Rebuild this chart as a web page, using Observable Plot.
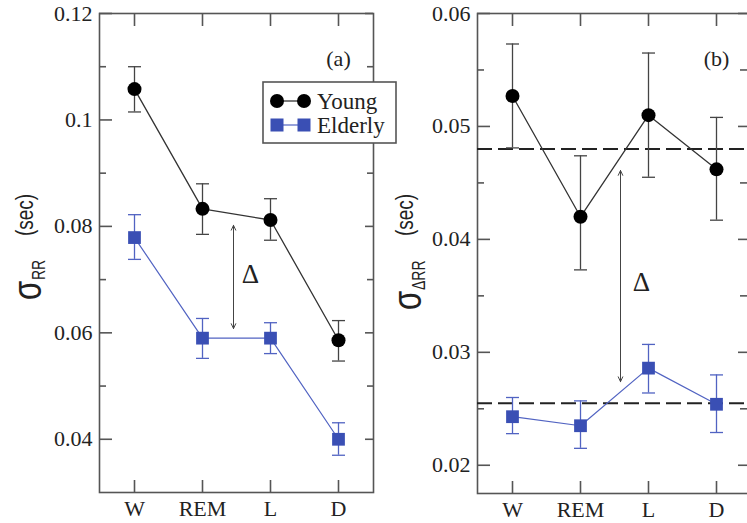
<!DOCTYPE html>
<html><head><meta charset="utf-8">
<script src="https://cdn.jsdelivr.net/npm/d3@7"></script>
<script src="https://cdn.jsdelivr.net/npm/@observablehq/plot@0.6"></script>
<style>
body{margin:0;background:#fff;}
#wrap{position:relative;width:747px;height:523px;overflow:hidden;background:#fff;}
.panel{position:absolute;top:0;}
</style></head><body>
<div id="wrap"><div id="pa" class="panel" style="left:0;width:400px"></div><div id="pb" class="panel" style="left:380px;width:370px"></div></div>
<script>
// ---- data ----
const stages = ["W", "REM", "L", "D"];
// panel (a): sigma_RR (sec)
const youngRR   = [0.1058, 0.0833, 0.0812, 0.0586];
const youngRRLo = [0.1015, 0.0785, 0.0774, 0.0547];
const youngRRHi = [0.1100, 0.0880, 0.0852, 0.0623];
const elderRR   = [0.0779, 0.0590, 0.0590, 0.0400];
const elderRRLo = [0.0738, 0.0552, 0.0561, 0.0370];
const elderRRHi = [0.0822, 0.0627, 0.0619, 0.0431];
// panel (b): sigma_dRR (sec)
const youngDRR   = [0.0527, 0.0420, 0.0510, 0.0462];
const youngDRRLo = [0.0481, 0.0373, 0.0455, 0.0417];
const youngDRRHi = [0.0573, 0.0474, 0.0565, 0.0508];
const elderDRR   = [0.0243, 0.0235, 0.0286, 0.0254];
const elderDRRLo = [0.0228, 0.0215, 0.0264, 0.0229];
const elderDRRHi = [0.0260, 0.0257, 0.0307, 0.0280];
const meansDRR = [0.0480, 0.0255];
// Delta arrows (value ranges)
const deltaA = [{x: "REM", y1: 0.0802, y2: 0.0608, ty: 0.0710}];
const deltaB = [{x: "REM", y1: 0.0461, y2: 0.0274, ty: 0.0362}];
// ticks
const yTicksA = [0.04, 0.06, 0.08, 0.1, 0.12];
const yTickLabelsA = ["0.04", "0.06", "0.08", "0.1", "0.12"];
const yMinorA = [0.05, 0.07, 0.09, 0.11];
const yTicksB = [0.02, 0.03, 0.04, 0.05, 0.06];
const yTickLabelsB = ["0.02", "0.03", "0.04", "0.05", "0.06"];
const yMinorB = [0.025, 0.035, 0.045, 0.055];
const seriesNames = ["Young", "Elderly"];

const BLUE = "#3a4fb4", BLUE_L = "#5163c2", FRAME = "#555";

// horizontal error-bar cap symbol
const capSymbol = {draw(ctx, size) { const r = Math.sqrt(size / Math.PI); ctx.moveTo(-r, 0); ctx.lineTo(r, 0); }};

function rows(v, lo, hi) { return stages.map((s, i) => ({stage: s, v: v[i], lo: lo[i], hi: hi[i]})); }

function panel(o) {
  const innerW = o.width - o.marginLeft - o.marginRight;
  const innerH = o.height - o.marginTop - o.marginBottom;
  const Y = rows(o.young, o.yLo, o.yHi), E = rows(o.elder, o.eLo, o.eHi);
  const fmt = d => o.tickLabels[o.ticks.indexOf(d)];
  const caps = (D, stroke) => [
    Plot.dot(D, {x: "stage", y: "lo", symbol: capSymbol, r: 6.5, stroke, strokeWidth: 1.3, fill: "none"}),
    Plot.dot(D, {x: "stage", y: "hi", symbol: capSymbol, r: 6.5, stroke, strokeWidth: 1.3, fill: "none"})
  ];
  const mid = d => (d.y1 + d.y2) / 2;
  const marks = [
    Plot.frame({stroke: FRAME, strokeWidth: 1.6}),
    Plot.ruleY(o.ticks, {stroke: FRAME, strokeWidth: 1.6, insetRight: innerW - 13}),
    Plot.ruleY(o.minor, {stroke: FRAME, strokeWidth: 1.6, insetRight: innerW - 7}),
    Plot.ruleY(o.ticks, {stroke: FRAME, strokeWidth: 1.6, insetLeft: innerW - o.rightMajor}),
    Plot.ruleY(o.minor, {stroke: FRAME, strokeWidth: 1.6, insetLeft: innerW - o.rightMinor}),
    Plot.ruleX(stages, {stroke: FRAME, strokeWidth: 1.6, insetBottom: innerH - 13}),
    Plot.ruleX(stages, {stroke: FRAME, strokeWidth: 1.6, insetTop: innerH - 12}),
    Plot.axisY({ticks: o.ticks, tickSize: 0, tickPadding: 7, tickFormat: fmt, fontSize: 22, label: null, fill: "#222"}),
    Plot.axisX({tickSize: 0, tickPadding: 8, fontSize: 22, label: null, fill: "#222"})
  ];
  if (o.means) marks.push(Plot.ruleY(o.means, {stroke: "#222", strokeWidth: 2, strokeDasharray: "15,6"}));
  marks.push(
    // Young
    Plot.line(Y, {x: "stage", y: "v", stroke: "#333", strokeWidth: 1.3}),
    Plot.ruleX(Y, {x: "stage", y1: "lo", y2: "hi", stroke: "#444", strokeWidth: 1.3}),
    ...caps(Y, "#444"),
    Plot.dot(Y, {x: "stage", y: "v", r: 7, fill: "#000"}),
    // Elderly
    Plot.line(E, {x: "stage", y: "v", stroke: BLUE_L, strokeWidth: 1.2}),
    Plot.ruleX(E, {x: "stage", y1: "lo", y2: "hi", stroke: BLUE_L, strokeWidth: 1.3}),
    ...caps(E, BLUE_L),
    Plot.dot(E, {x: "stage", y: "v", r: 7.2, symbol: "square", fill: BLUE}),
    // Delta double-headed arrow (two arrows from the middle outwards)
    Plot.arrow(o.delta, {x1: "x", x2: "x", y1: mid, y2: "y1", dx: o.arrowDx, stroke: "#444", strokeWidth: 1, headLength: 8, headAngle: 50}),
    Plot.arrow(o.delta, {x1: "x", x2: "x", y1: mid, y2: "y2", dx: o.arrowDx, stroke: "#444", strokeWidth: 1, headLength: 8, headAngle: 50}),
    Plot.text(o.delta, {x: "x", y: "ty", text: () => "Δ", dx: o.textDx, fontSize: 27, fill: "#222"}),
    Plot.text([o.tag], {x: () => "D", frameAnchor: "top", dy: 37, fontSize: 22, fill: "#222"})
  );
  const svg = Plot.plot({
    width: o.width, height: o.height,
    marginLeft: o.marginLeft, marginRight: o.marginRight, marginTop: o.marginTop, marginBottom: o.marginBottom,
    style: {fontFamily: "'Liberation Serif', serif", background: "transparent", overflow: "visible", maxWidth: "none"},
    x: {type: "point", domain: stages, padding: 0.5},
    y: {domain: o.domain},
    marks
  });
  return svg;
}

function yLabel(svg, p) {
  const s = d3.select(svg);
  const g = s.append("g").attr("fill", "#222").attr("font-family", "'Liberation Sans', sans-serif").attr("text-anchor", "start");
  g.append("text").attr("transform", `translate(${p.sx},${p.sy}) scale(1.3,1) rotate(-90)`).attr("font-size", 31).text("σ");
  g.append("text").attr("transform", `translate(${p.rx},${p.ry}) scale(1.3,1) rotate(-90)`).attr("font-size", 14).text(p.sub);
  g.append("text").attr("transform", `translate(${p.px},${p.py}) scale(1.3,1) rotate(-90)`).attr("font-size", 19).attr("text-anchor", "middle").text("(sec)");
}

const svgA = panel({
  width: 400, height: 523, marginLeft: 99, marginRight: 27, marginTop: 13, marginBottom: 31,
  domain: [0.03, 0.12], ticks: yTicksA, tickLabels: yTickLabelsA, minor: yMinorA,
  young: youngRR, yLo: youngRRLo, yHi: youngRRHi, elder: elderRR, eLo: elderRRLo, eHi: elderRRHi,
  delta: deltaA, arrowDx: 31, textDx: 48, tag: "(a)", rightMajor: 8, rightMinor: 6
});
yLabel(svgA, {sx: 41, sy: 300, rx: 45, ry: 280, sub: "RR", px: 33, py: 215});
// legend
(function () {
  const s = d3.select(svgA);
  const g = s.append("g");
  g.append("rect").attr("x", 263).attr("y", 82).attr("width", 133).attr("height", 61)
    .attr("fill", "#fff").attr("stroke", FRAME).attr("stroke-width", 1.6);
  g.append("line").attr("x1", 277).attr("x2", 304).attr("y1", 101).attr("y2", 101).attr("stroke", "#333").attr("stroke-width", 1.3);
  [277, 304].forEach(cx => g.append("circle").attr("cx", cx).attr("cy", 101).attr("r", 7).attr("fill", "#000"));
  g.append("line").attr("x1", 277).attr("x2", 304).attr("y1", 125).attr("y2", 125).attr("stroke", BLUE_L).attr("stroke-width", 1.2);
  [277, 304].forEach(cx => g.append("rect").attr("x", cx - 6.5).attr("y", 118.5).attr("width", 13).attr("height", 13).attr("fill", BLUE));
  seriesNames.forEach((n, i) => g.append("text").attr("x", 317).attr("y", 101 + i * 24).attr("dy", "0.34em")
    .attr("text-anchor", "start").attr("font-family", "'Liberation Serif', serif").attr("font-size", 23).attr("fill", "#222").text(n));
})();
document.getElementById("pa").appendChild(svgA);

const svgB = panel({
  width: 370, height: 523, marginLeft: 97, marginRight: 0, marginTop: 13, marginBottom: 30,
  domain: [0.0175, 0.06], ticks: yTicksB, tickLabels: yTickLabelsB, minor: yMinorB,
  young: youngDRR, yLo: youngDRRLo, yHi: youngDRRHi, elder: elderDRR, eLo: elderDRRLo, eHi: elderDRRHi,
  means: meansDRR, delta: deltaB, arrowDx: 40, textDx: 61, tag: "(b)", rightMajor: 12, rightMinor: 10
});
yLabel(svgB, {sx: 41, sy: 310, rx: 45, ry: 290, sub: "ΔRR", px: 33, py: 215});
document.getElementById("pb").appendChild(svgB);
</script>
</body></html>
